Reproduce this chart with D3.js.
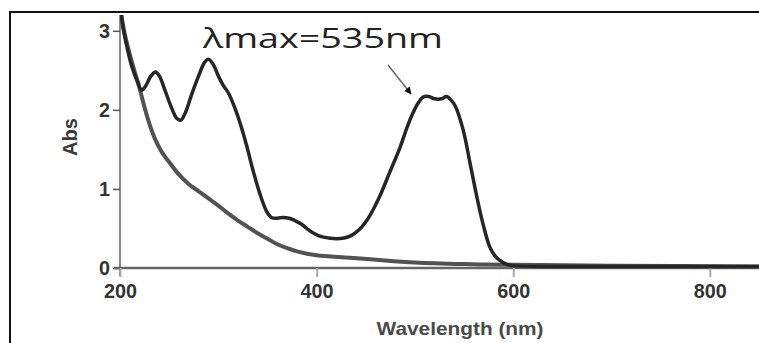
<!DOCTYPE html>
<html>
<head>
<meta charset="utf-8">
<script src="https://cdn.jsdelivr.net/npm/d3@7"></script>
<style>
  body { margin: 0; background: #fff; }
  svg { display: block; }
</style>
</head>
<body>
<script>
// spectrum with dye (dark curve)
var sampleNm = [200, 203, 207, 212, 218, 222, 226, 231, 236, 240, 246, 252, 258, 262, 267, 273, 280, 286, 290, 295,
  300, 305, 310, 317, 323, 329, 335, 342, 349, 354, 360, 366, 372, 378, 384, 390, 397, 404, 412, 420,
  428, 435, 440, 446, 452, 458, 464, 474, 485, 492, 498, 503, 508, 514, 520, 527, 532, 537, 541,
  549, 556, 563, 569, 576, 581, 586, 593, 600, 650, 700, 750, 850];
var sampleAbs = [3.35, 3.05, 2.80, 2.55, 2.35, 2.25, 2.30, 2.42, 2.48, 2.43, 2.24, 2.04, 1.89, 1.87, 1.98, 2.20, 2.43, 2.60, 2.64, 2.57,
  2.43, 2.31, 2.22, 2.02, 1.80, 1.54, 1.25, 0.95, 0.72, 0.64, 0.63, 0.64, 0.63, 0.60, 0.56, 0.50, 0.44, 0.40, 0.38, 0.37,
  0.38, 0.41, 0.45, 0.52, 0.62, 0.75, 0.90, 1.20, 1.53, 1.78, 1.96, 2.08, 2.16, 2.17, 2.14, 2.14, 2.17, 2.12, 2.05,
  1.75, 1.33, 0.90, 0.57, 0.27, 0.16, 0.10, 0.05, 0.03, 0.02, 0.02, 0.02, 0.02];

// blank / reference (gray curve)
var blankNm = [200, 205, 210, 215, 220, 225, 230, 235, 240, 245, 250, 260, 270, 280, 290, 300, 310, 320, 330, 340,
  350, 360, 370, 380, 400, 434, 464, 500, 550, 600, 700, 850];
var blankAbs = [3.30, 2.95, 2.70, 2.48, 2.27, 2.03, 1.82, 1.65, 1.52, 1.42, 1.34, 1.18, 1.06, 0.97, 0.88, 0.79, 0.69, 0.60, 0.52, 0.44,
  0.37, 0.30, 0.25, 0.21, 0.16, 0.13, 0.10, 0.07, 0.05, 0.04, 0.03, 0.02];

var xTicks = [200, 400, 600, 800];
var yTicks = [0, 1, 2, 3];

var W = 759, H = 343;
var svg = d3.select("body").append("svg").attr("width", W).attr("height", H);

// outer frame (top and left edges visible)
svg.append("path").attr("d", "M10,343 V12 H759").attr("fill", "none")
  .attr("stroke", "#111").attr("stroke-width", 2);

var x = d3.scaleLinear().domain([200, 850]).range([120, 759]);
var y = d3.scaleLinear().domain([0, 3.2]).range([268, 15]);

svg.append("defs").append("clipPath").attr("id", "plot")
  .append("rect").attr("x", 120).attr("y", 15).attr("width", 639).attr("height", 260);

var font = "'Liberation Sans', Arial, sans-serif";

// y axis
var yAxis = svg.append("g").attr("transform", "translate(120,0)")
  .call(d3.axisLeft(y).tickValues(yTicks).tickSize(7).tickPadding(3).tickFormat(d3.format("d")));
yAxis.select(".domain").attr("d", "M0,15 V276").attr("stroke", "#888").attr("stroke-width", 2);
yAxis.selectAll(".tick line").attr("stroke", "#555").attr("stroke-width", 1.5);
yAxis.selectAll(".tick text").attr("font-family", font).attr("font-size", 21).attr("fill", "#333")
  .attr("font-weight", "bold").attr("textLength", 11).attr("lengthAdjust", "spacingAndGlyphs");

// x axis
var xAxis = svg.append("g").attr("transform", "translate(0,268)")
  .call(d3.axisBottom(x).tickValues(xTicks).tickSize(9).tickPadding(6).tickFormat(d3.format("d")));
xAxis.select(".domain").attr("d", "M114,0 H759").attr("stroke", "#666").attr("stroke-width", 2.5);
xAxis.selectAll(".tick line").attr("stroke", "#aaa").attr("stroke-width", 2);
xAxis.selectAll(".tick text").attr("font-family", font).attr("font-size", 21).attr("fill", "#333")
  .attr("font-weight", "bold").attr("textLength", 33).attr("lengthAdjust", "spacingAndGlyphs");

// axis titles
svg.append("text").attr("x", 460).attr("y", 335).attr("text-anchor", "middle")
  .attr("font-family", font).attr("font-size", 19).attr("font-weight", "bold").attr("fill", "#4a4a4a")
  .attr("textLength", 167).attr("lengthAdjust", "spacingAndGlyphs").text("Wavelength (nm)");
svg.append("text").attr("transform", "translate(77,137) rotate(-90)").attr("text-anchor", "middle")
  .attr("font-family", font).attr("font-size", 20).attr("font-weight", "bold").attr("fill", "#3a3a3a")
  .attr("textLength", 38).attr("lengthAdjust", "spacingAndGlyphs").text("Abs");

var line = d3.line().x(d => x(d[0])).y(d => y(d[1])).curve(d3.curveCatmullRom.alpha(0.5));
var plot = svg.append("g").attr("clip-path", "url(#plot)");

plot.append("path").datum(d3.zip(blankNm, blankAbs)).attr("d", line)
  .attr("fill", "none").attr("stroke", "#525252").attr("stroke-width", 4).attr("stroke-linejoin", "round");
plot.append("path").datum(d3.zip(sampleNm, sampleAbs)).attr("d", line)
  .attr("fill", "none").attr("stroke", "#262626").attr("stroke-width", 3.5).attr("stroke-linejoin", "round");

// annotation
svg.append("defs").append("marker").attr("id", "head").attr("viewBox", "0 0 10 10")
  .attr("refX", 9).attr("refY", 5).attr("markerWidth", 5).attr("markerHeight", 5).attr("orient", "auto")
  .append("path").attr("d", "M0,0 L10,5 L0,10 Z").attr("fill", "#111");
svg.append("line").attr("x1", 388).attr("y1", 65).attr("x2", 411).attr("y2", 94)
  .attr("stroke", "#666").attr("stroke-width", 1.5).attr("marker-end", "url(#head)");
svg.append("text").attr("x", 203).attr("y", 48).attr("font-family", "'Open Sans', 'Noto Sans', sans-serif")
  .attr("font-size", 28).attr("fill", "#222").attr("textLength", 240).attr("lengthAdjust", "spacingAndGlyphs")
  .text("λmax=535nm");
</script>
</body>
</html>
